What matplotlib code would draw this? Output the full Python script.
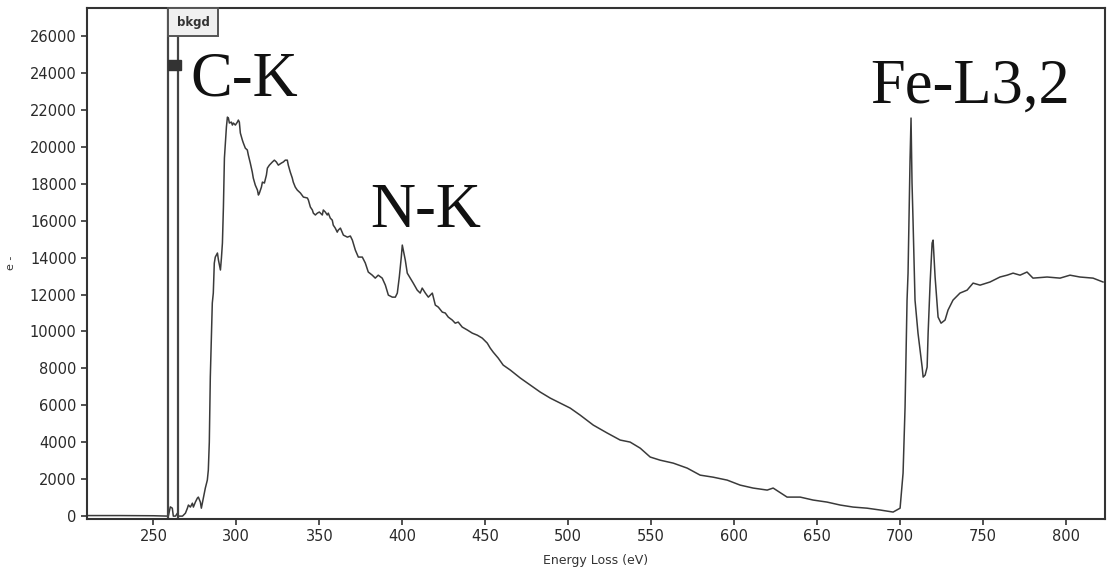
import matplotlib.pyplot as plt
from matplotlib.patches import Rectangle

# EELS spectrum (energy in eV, counts in e-)
energy = [
    210, 230, 250, 259.0, 260.2, 261.4, 262.0, 263.3, 264.5, 265.1, 266.3, 267.5, 268.1, 269.3,
    270.5, 271.1, 272.3, 273.5, 274.1, 275.3, 276.5, 277.1, 278.3, 278.9, 279.5, 280.1,
    281.3, 282.5, 283.1, 283.7, 284.3, 285.5, 286.1, 286.7, 287.3, 288.6, 289.2, 290.4,
    291.0, 291.6, 292.2, 292.8, 294.0, 294.6, 295.2, 295.8, 297.0, 297.6, 298.2, 299.4,
    300.6, 301.2, 301.8, 302.4, 303.6, 304.2, 305.4, 306.6, 307.2, 308.4, 309.6, 310.2,
    311.4, 312.7, 313.3, 313.9, 315.1, 315.7, 316.9, 318.1, 318.7, 319.9, 321.7, 322.9,
    324.1, 325.3, 327.1, 328.3, 329.5, 330.7, 331.3, 332.5, 333.7, 334.3, 335.5, 336.7,
    338.6, 340.4, 342.8, 343.4, 344.6, 345.8, 346.4, 347.6, 348.8, 350.0, 351.8, 352.4,
    353.6, 354.8, 355.4, 356.6, 357.8, 358.4, 359.6, 360.8, 361.4, 362.7, 364.5, 366.9,
    368.7, 369.9, 371.7, 373.5, 375.9, 377.7, 379.5, 381.9, 383.7, 385.5, 387.9, 389.8,
    391.6, 394.0, 395.8, 397.0, 398.2, 399.4, 400.0, 400.6, 401.8, 403.0, 404.8, 406.6,
    409.0, 410.8, 412.0, 413.9, 415.7, 418.1, 419.9, 421.7, 424.1, 425.9, 427.7, 430.1,
    431.9, 433.7, 436.1, 439.2, 442.2, 445.2, 448.2, 451.2, 453.0, 454.8, 457.8, 460.8,
    465.1, 471.1, 477.1, 483.1, 489.2, 495.2, 501.2, 507.2, 515.1, 523.5, 531.3, 537.3,
    543.4, 549.4, 555.4, 563.3, 571.7, 579.5, 587.3, 595.8, 603.6, 611.4, 619.9, 623.5,
    631.9, 639.8, 647.6, 656.0, 663.9, 671.7, 680.1, 688.0, 695.8, 700.0, 701.8, 703.0,
    704.2, 704.8, 706.0, 706.6, 707.2, 707.8, 709.0, 710.8, 713.3, 713.9, 715.1, 716.3,
    716.9, 718.1, 719.3, 719.9, 721.1, 722.9, 724.7, 727.1, 728.9, 731.9, 736.1, 740.4,
    744.0, 748.2, 754.2, 760.2, 764.5, 768.1, 772.3, 776.5, 780.1, 788.6, 796.4, 802.4,
    808.4, 816.3, 822.3,
]
counts = [
    30, 30, 20, 0, 500, 430, 0, 0, 160, 0, 0, 0, 50, 160,
    430, 600, 490, 700, 490, 760, 975, 1030, 760, 430, 700, 975,
    1520, 1950, 2490, 4010, 7530, 11540, 12080, 13700, 14030, 14250, 13870, 13330,
    13980, 14790, 16740, 19390, 21070, 21610, 21560, 21290, 21340, 21180, 21290, 21180,
    21340, 21450, 21340, 20750, 20370, 20210, 19930, 19830, 19560, 19120, 18630, 18310,
    17930, 17660, 17390, 17500, 17820, 18090, 18040, 18470, 18850, 19010, 19180, 19280,
    19180, 19010, 19120, 19180, 19280, 19280, 19010, 18630, 18310, 18090, 17820, 17660,
    17500, 17280, 17230, 17120, 16740, 16580, 16410, 16310, 16410, 16470, 16310, 16580,
    16470, 16310, 16410, 16140, 16030, 15760, 15600, 15380, 15490, 15600, 15220, 15110,
    15170, 14950, 14410, 14030, 14030, 13710, 13220, 13050, 12890, 13050, 12890, 12510,
    11970, 11860, 11860, 12080, 12950, 14030, 14680, 14410, 13870, 13160, 12890, 12620,
    12240, 12080, 12350, 12080, 11860, 12080, 11430, 11320, 11050, 11000, 10780, 10620,
    10450, 10510, 10240, 10080, 9910, 9800, 9640, 9370, 9100, 8880, 8560, 8180,
    7910, 7480, 7100, 6720, 6390, 6120, 5850, 5470, 4930, 4500, 4120, 4010,
    3680, 3200, 3030, 2870, 2600, 2220, 2110, 1950, 1680, 1520, 1410, 1520,
    1030, 1030, 870, 760, 600, 490, 430, 330, 220, 430, 2330, 5900,
    11700, 13160, 19280, 21560, 18040, 16030, 11700, 9910, 8070, 7530, 7640, 8070,
    9910, 12620, 14790, 14950, 12950, 10780, 10450, 10620, 11160, 11700, 12080, 12240,
    12620, 12510, 12680, 12950, 13050, 13160, 13050, 13220, 12890, 12950, 12890, 13050,
    12950, 12890, 12680,
]

bkgd_window = [259, 265]
x_ticks = list(range(250, 801, 50))
y_ticks = list(range(0, 26001, 2000))

edge_labels = ["C-K", "N-K", "Fe-L3,2"]
edge_label_x = [272.5, 380.5, 682]
edge_label_y = [22800, 15650, 22370]

fig = plt.figure(figsize=(11.1, 5.72), dpi=100)
ax = fig.add_axes([0.0784, 0.0935, 0.9171, 0.8925])

ax.plot(energy, counts, color="#3a3a3a", lw=1.1)

# background window markers
for xv in bkgd_window:
    ax.axvline(xv, color="#444444", lw=1.6)
ax.add_patch(Rectangle((259, 24160), 7.5, 560, color="#333333", zorder=3))
ax.add_patch(Rectangle((259, 26000), 30.2, 1500, facecolor="#f0f0f0",
                       edgecolor="#555555", lw=1.4, clip_on=False, zorder=4))
ax.text(274.1, 26750, "bkgd", ha="center", va="center", fontsize=8.5,
        color="#333333", fontweight="bold", zorder=5)

for lab, lx, ly in zip(edge_labels, edge_label_x, edge_label_y):
    ax.text(lx, ly, lab, family="Liberation Serif", fontsize=45,
            ha="left", va="baseline", color="#111111")

ax.set_xlim(210, 823.5)
ax.set_ylim(-130, 27520)
ax.set_xticks(x_ticks)
ax.set_yticks(y_ticks)
ax.tick_params(direction="out", length=4, width=1.2, labelsize=10.5,
               colors="#333333", labelcolor="#2a2a2a")
for sp in ax.spines.values():
    sp.set_linewidth(1.5)
    sp.set_color("#333333")

ax.set_xlabel("Energy Loss (eV)", fontsize=9, color="#333333", labelpad=7)
ax.set_ylabel("e -", fontsize=8, color="#333333", labelpad=10)

fig.savefig("out.png", dpi=100)
